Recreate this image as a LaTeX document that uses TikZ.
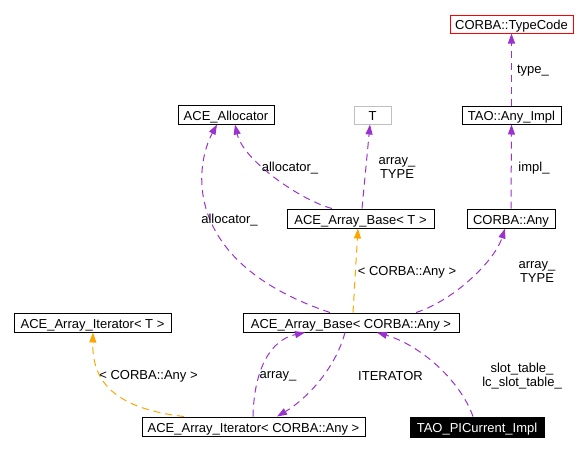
\documentclass[tikz,border=0pt]{standalone}
\usepackage{fontspec}
\setmainfont{Liberation Sans}
\usetikzlibrary{arrows.meta}

\definecolor{usecol}{HTML}{9A32CD}
\definecolor{tmplcol}{HTML}{FFA500}

\begin{document}
\begin{tikzpicture}[x=1pt, y=-1pt,
  font=\fontsize{13}{14}\selectfont,
  cls/.style={draw=black, line width=1pt, inner sep=0pt, minimum height=19pt,
    text height=11pt, text depth=0pt},
  usage/.style={draw=usecol, line width=1pt, dash pattern=on 7pt off 5pt,
    -{Triangle[length=10pt, width=7pt]}},
  inst/.style={usage, draw=tmplcol},
  lbl/.style={align=center, inner sep=0pt}]

  \useasboundingbox (0,0) rectangle (586,451);

  \node[cls, draw=red, minimum width=123pt, minimum height=18pt] (typecode) at (511.5,24) {CORBA::TypeCode};
  \node[cls, minimum width=96pt] (allocator) at (226,114.5) {ACE\_Allocator};
  \node[cls, draw=black!25, minimum width=37pt, minimum height=18pt] (tparam) at (372.5,115) {T};
  \node[cls, minimum width=99pt, minimum height=18pt] (anyimpl) at (511.5,115) {TAO::Any\_Impl};
  \node[cls, minimum width=147pt] (baset) at (360.5,218.5) {ACE\_Array\_Base< T >};
  \node[cls, minimum width=88pt] (any) at (511,218.5) {CORBA::Any};
  \node[cls, minimum width=157pt] (itert) at (92.5,322.5) {ACE\_Array\_Iterator< T >};
  \node[cls, minimum width=216pt] (baseany) at (351,322.5) {ACE\_Array\_Base< CORBA::Any >};
  \node[cls, minimum width=223pt] (iterany) at (253.5,426.5) {ACE\_Array\_Iterator< CORBA::Any >};
  \node[cls, fill=black, text=white, minimum width=134pt, minimum height=20pt] (picurrent) at (477,427) {TAO\_PICurrent\_Impl};

  \draw[usage] (anyimpl.north) -- (typecode.south);
  \draw[usage] (any.north) -- (anyimpl.south);
  \draw[usage] ([xshift=1.5pt]baset.north) -- ([xshift=-2.5pt]tparam.south);
  \draw[usage] ([xshift=-28.5pt]baset.north) .. controls (300,200) and (243,160) .. ([xshift=9pt]allocator.south);
  \draw[usage] ([xshift=-21pt]baseany.north) .. controls (180,262) and (195,165) .. ([xshift=-9pt]allocator.south);
  \draw[inst] ([xshift=2pt]baseany.north) -- ([xshift=-2.5pt]baset.south);
  \draw[usage] ([xshift=65pt]baseany.north) .. controls (455,300) and (495,260) .. ([xshift=-6pt]any.south);
  \draw[inst] ([xshift=-69.5pt]iterany.north) .. controls (110,408) and (92,378) .. ([xshift=0.5pt]itert.south);
  \draw[usage] ([xshift=-0.5pt]iterany.north) .. controls (254,370) and (270,340) .. ([xshift=-46pt]baseany.south);
  \draw[usage] ([xshift=-6pt]baseany.south) .. controls (335,370) and (305,400) .. ([xshift=23.5pt]iterany.north);
  \draw[usage] ([xshift=-4pt]picurrent.north) .. controls (460,380) and (420,345) .. ([xshift=26pt]baseany.south);

  \node[lbl] (ltype) at (533,71) {type\_};
  \node[lbl] (limpl) at (534,168) {impl\_};
  \node[lbl] (ltarray) at (397,168) {array\_\\TYPE};
  \node[lbl] (lalloct) at (290,168) {allocator\_};
  \node[lbl] (lallocany) at (229.5,220) {allocator\_};
  \node[lbl] (lbaseinst) at (407,272) {< CORBA::Any >};
  \node[lbl] (lanyarray) at (537,272) {array\_\\TYPE};
  \node[lbl] (literinst) at (148.5,376) {< CORBA::Any >};
  \node[lbl] (lbackarray) at (278,376) {array\_};
  \node[lbl] (literator) at (390.5,376) {ITERATOR};
  \node[lbl] (lslot) at (522,376.5) {slot\_table\_\\lc\_slot\_table\_};
\end{tikzpicture}
\end{document}
